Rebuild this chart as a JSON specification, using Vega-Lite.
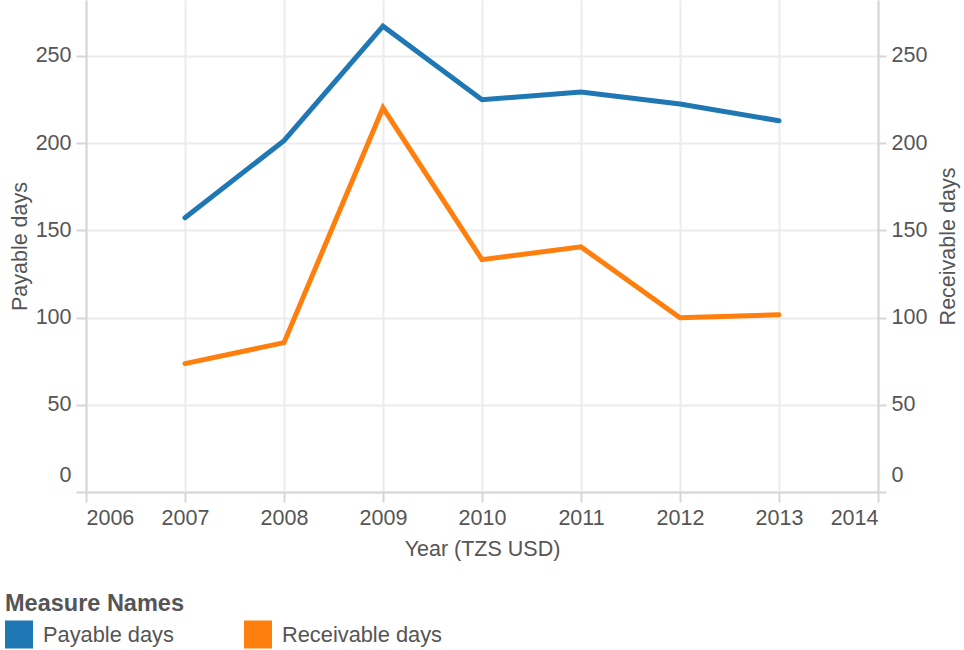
{
  "$schema": "https://vega.github.io/schema/vega-lite/v6.json",
  "width": 792,
  "height": 492,
  "autosize": {"type": "none"},
  "padding": {"left": 86, "top": 0, "right": 86, "bottom": 158},
  "background": "white",
  "config": {
    "font": "Liberation Sans",
    "view": {"stroke": null},
    "axis": {
      "labelFont": "Liberation Sans",
      "titleFont": "Liberation Sans",
      "labelFontSize": 21.5,
      "titleFontSize": 21.5,
      "labelColor": "#555555",
      "titleColor": "#555555",
      "titleFontWeight": "normal",
      "domainColor": "#d6d6d6",
      "domainWidth": 2,
      "tickColor": "#d6d6d6",
      "tickWidth": 2,
      "tickSize": 10,
      "gridColor": "#ececec",
      "gridWidth": 2
    },
    "legend": {
      "labelFont": "Liberation Sans",
      "titleFont": "Liberation Sans",
      "labelFontSize": 21.8,
      "titleFontSize": 23.5,
      "labelColor": "#555555",
      "titleColor": "#555555",
      "titleFontWeight": "bold"
    }
  },
  "data": {
    "values": [
      {"Year": 2007, "Measure": "Payable days", "Value": 157.2},
      {"Year": 2008, "Measure": "Payable days", "Value": 201.4},
      {"Year": 2009, "Measure": "Payable days", "Value": 267},
      {"Year": 2010, "Measure": "Payable days", "Value": 224.8},
      {"Year": 2011, "Measure": "Payable days", "Value": 229.3},
      {"Year": 2012, "Measure": "Payable days", "Value": 222.4},
      {"Year": 2013, "Measure": "Payable days", "Value": 212.8},
      {"Year": 2007, "Measure": "Receivable days", "Value": 73.6},
      {"Year": 2008, "Measure": "Receivable days", "Value": 85.6},
      {"Year": 2009, "Measure": "Receivable days", "Value": 220.2},
      {"Year": 2010, "Measure": "Receivable days", "Value": 133.2},
      {"Year": 2011, "Measure": "Receivable days", "Value": 140.5},
      {"Year": 2012, "Measure": "Receivable days", "Value": 99.9},
      {"Year": 2013, "Measure": "Receivable days", "Value": 101.6}
    ]
  },
  "encoding": {
    "x": {
      "field": "Year",
      "type": "quantitative",
      "scale": {"domain": [2006, 2014], "nice": false, "zero": false},
      "axis": {
        "title": "Year (TZS USD)",
        "values": [2006, 2007, 2008, 2009, 2010, 2011, 2012, 2013, 2014],
        "format": "d",
        "labelFlush": true,
        "labelPadding": 5,
        "titlePadding": 10,
        "grid": true
      }
    },
    "color": {
      "field": "Measure",
      "type": "nominal",
      "scale": {"domain": ["Payable days", "Receivable days"], "range": ["#1f77b4", "#ff7f0e"]},
      "legend": {
        "title": "Measure Names",
        "orient": "none",
        "legendX": -81,
        "legendY": 592,
        "direction": "horizontal",
        "columns": 2,
        "columnPadding": 70,
        "symbolType": "square",
        "symbolSize": 784,
        "symbolStrokeWidth": 0,
        "symbolOpacity": 1,
        "labelOffset": 10,
        "titlePadding": 5,
        "padding": 0,
        "encode": {
          "symbols": {
            "update": {
              "fill": {"scale": "color", "field": "value"},
              "strokeWidth": {"value": 0}
            }
          }
        }
      }
    }
  },
  "layer": [
    {
      "transform": [{"filter": "datum.Measure == 'Payable days'"}],
      "mark": {"type": "line", "strokeWidth": 5, "strokeCap": "round"},
      "encoding": {
        "y": {
          "field": "Value",
          "type": "quantitative",
          "scale": {"domain": [0, 282], "nice": false},
          "axis": {
            "title": "Payable days",
            "orient": "left",
            "values": [0, 50, 100, 150, 200, 250],
            "labelFlush": true,
            "labelFlushOffset": -6,
            "labelPadding": 5,
            "titlePadding": 4,
            "grid": true
          }
        }
      }
    },
    {
      "transform": [{"filter": "datum.Measure == 'Receivable days'"}],
      "mark": {"type": "line", "strokeWidth": 5, "strokeCap": "round"},
      "encoding": {
        "y": {
          "field": "Value",
          "type": "quantitative",
          "scale": {"domain": [0, 282], "nice": false},
          "axis": {
            "title": "Receivable days",
            "orient": "right",
            "values": [0, 50, 100, 150, 200, 250],
            "labelFlush": true,
            "labelFlushOffset": -6,
            "labelPadding": 5,
            "tickSize": 8,
            "titlePadding": 11,
            "titleAngle": 270,
            "titleBaseline": "top",
            "grid": false
          }
        }
      }
    }
  ],
  "resolve": {"scale": {"y": "independent"}}
}
